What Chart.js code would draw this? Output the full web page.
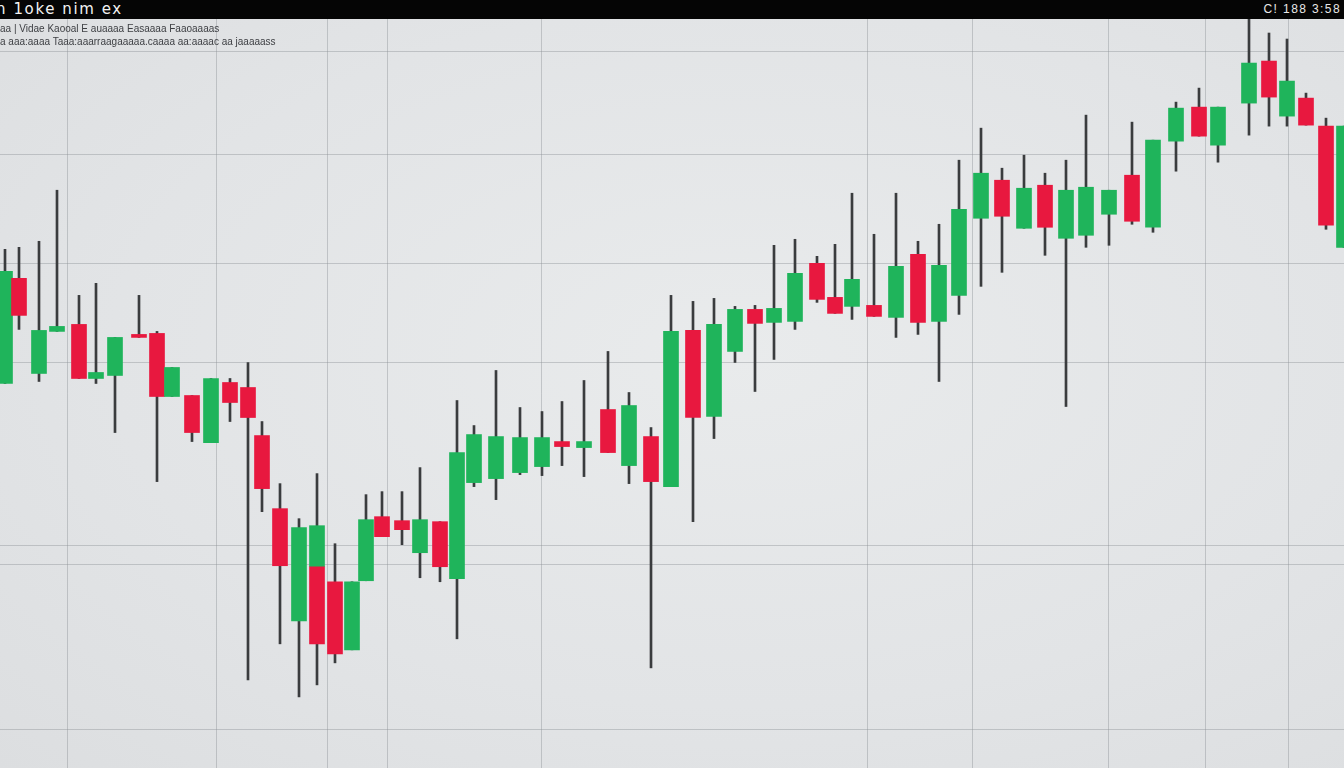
<!DOCTYPE html>
<html>
<head>
<meta charset="utf-8">
<title>Candles</title>
<script src="https://cdn.jsdelivr.net/npm/chart.js@4.4.1/dist/chart.umd.min.js"></script>
<style>
    html, body { margin: 0; padding: 0; width: 1344px; height: 768px; overflow: hidden; background: #e2e4e6; font-family: "Liberation Sans", Arial, sans-serif; }
    #topBar { position: absolute; left: 0; top: 0; width: 1344px; height: 19px; background: #050505; }
    #title { position: absolute; left: -4px; top: 0px; color: #f2f2f2; font-family: "DejaVu Sans", sans-serif; font-size: 15px; line-height: 19px; letter-spacing: 1.6px; }
    #clock { position: absolute; right: 3px; top: 0px; color: #e8e8e8; font-size: 12px; line-height: 19px; letter-spacing: 1.4px; }
    #chartBox { position: absolute; left: 0; top: 19px; width: 1344px; height: 749px;
        background: radial-gradient(ellipse at 55% 45%, #e9ebec 0%, #e2e4e6 60%, #dcdee0 100%); }
    .info { position: absolute; left: 0; color: #3c3e42; font-size: 10px; white-space: nowrap; z-index: 2; }
</style>
</head>
<body>
<div id="topBar">
    <div id="title">n 1oke nim ex</div>
    <div id="clock">C! 188 3:58</div>
</div>
<div id="chartBox"><canvas id="candleChart"></canvas></div>
<div class="info" style="top:23px;">aa | Vidae Kaooal E auaaaa Easaaaa Faaoaaaas</div>
<div class="info" style="top:36px;">a  aaa:aaaa  Taaa:aaarraagaaaaa.caaaa aa:aaaac aa jaaaaass</div>

<script>
// candle times (one unit = one period) and prices
var times = [0.25, 0.95, 1.95, 2.85, 3.95, 4.8, 5.75, 6.95, 7.85, 8.6,
    9.6, 10.55, 11.5, 12.4, 13.1, 14, 14.95, 15.85, 15.85, 16.75,
    17.6, 18.3, 19.1, 20.1, 21, 22, 22.85, 23.7, 24.8, 26,
    27.1, 28.1, 29.2, 30.4, 31.45, 32.55, 33.55, 34.65, 35.7, 36.75,
    37.75, 38.7, 39.75, 40.85, 41.75, 42.6, 43.7, 44.8, 45.9, 46.95,
    47.95, 49.05, 50.1, 51.2, 52.25, 53.3, 54.3, 55.45, 56.6, 57.65,
    58.8, 59.95, 60.9, 62.45, 63.45, 64.35, 65.3, 66.3, 67.2];

var opens = [138.4, 148.9, 139.4, 143.6, 144.3, 138.9, 139.2, 143.3, 143.4, 137.1,
    137.2, 132.5, 138.5, 138.0, 133.2, 125.9, 114.7, 120.1, 120.1, 118.6,
    111.8, 118.7, 125.1, 124.7, 121.5, 124.6, 118.9, 128.5, 128.9, 129.5,
    130.1, 132.6, 132.0, 135.8, 130.2, 133.1, 128.1, 143.7, 135.1, 141.6,
    145.8, 144.5, 144.6, 150.4, 147.0, 146.1, 146.2, 145.0, 151.3, 144.6,
    147.2, 154.9, 158.7, 153.9, 158.2, 152.9, 153.2, 155.3, 159.2, 154.0,
    162.6, 166.0, 162.2, 166.4, 170.6, 165.1, 166.9, 164.1, 152.0];

var closes = [149.6, 145.2, 143.7, 144.1, 138.9, 139.5, 143.0, 143.0, 137.1, 140.0,
    133.5, 138.9, 136.5, 135.0, 127.9, 120.2, 124.0, 124.2, 112.4, 111.4,
    118.6, 124.8, 123.1, 123.8, 124.8, 120.1, 131.5, 133.3, 133.1, 133.0,
    133.0, 132.1, 132.6, 131.5, 136.2, 128.6, 143.6, 135.0, 144.3, 145.8,
    144.4, 145.9, 149.4, 146.8, 145.4, 148.8, 145.1, 150.1, 144.5, 150.2,
    155.8, 159.4, 155.1, 157.9, 154.0, 157.7, 158.0, 157.7, 154.6, 162.7,
    165.9, 163.1, 166.0, 170.4, 167.0, 168.6, 164.2, 154.2, 164.1];

var highs = [151.8, 152.0, 152.6, 157.7, 147.2, 148.4, 143.0, 147.2, 143.6, 140.0,
    137.2, 138.9, 138.9, 140.5, 134.6, 128.4, 124.9, 129.4, 120.1, 122.4,
    118.6, 127.3, 127.6, 127.6, 130.0, 124.6, 136.7, 134.2, 139.7, 136.0,
    135.6, 136.6, 138.7, 141.6, 137.5, 134.0, 147.2, 146.6, 146.9, 146.1,
    146.2, 152.2, 152.8, 151.1, 152.3, 157.4, 153.3, 157.4, 152.6, 154.3,
    160.7, 163.9, 159.9, 161.2, 159.4, 160.7, 165.2, 157.7, 164.5, 162.7,
    166.5, 167.9, 166.0, 174.8, 173.4, 172.8, 167.4, 164.9, 164.1];

var lows = [138.4, 143.8, 138.6, 143.6, 138.9, 138.4, 133.5, 143.0, 128.6, 137.1,
    132.6, 132.5, 134.6, 108.8, 125.6, 112.4, 107.1, 120.1, 108.3, 110.5,
    111.8, 118.7, 123.1, 122.3, 119.0, 118.6, 112.9, 128.1, 126.8, 129.3,
    129.2, 130.2, 129.1, 131.5, 128.4, 110.0, 128.1, 124.6, 132.9, 140.5,
    137.6, 140.8, 143.8, 146.5, 145.4, 144.8, 145.1, 143.0, 143.3, 138.6,
    145.3, 148.1, 149.5, 153.9, 151.2, 136.1, 152.0, 152.2, 154.3, 153.5,
    159.6, 163.1, 160.5, 163.2, 164.1, 164.1, 164.2, 153.8, 152.0];

// where the faint grid lines sit
var gridTimes = [3.35, 10.85, 16.4, 19.35, 27.05, 43.35, 48.6, 55.4, 60.25, 64.4];
var gridPrices = [171.6, 161.3, 150.4, 140.5, 122.2, 120.3, 103.8];

var upColor = '#1fb45b';
var downColor = '#e8183f';
var wickColor = '#3a3c3e';

var bodies = times.map(function (t, i) { return { x: t, y: [opens[i], closes[i]] }; });
var wicks = times.map(function (t, i) { return { x: t, y: [lows[i], highs[i]] }; });
var bodyColors = times.map(function (t, i) { return closes[i] >= opens[i] ? upColor : downColor; });

var ctx = document.getElementById('candleChart').getContext('2d');
var chartInstance = new Chart(ctx, {
    type: 'bar',
    data: {
        datasets: [{
            label: 'Body',
            data: bodies,
            backgroundColor: bodyColors,
            borderWidth: 0,
            barThickness: 15,
            grouped: false,
            borderSkipped: false
        }, {
            label: 'Wick',
            data: wicks,
            backgroundColor: wickColor,
            borderWidth: 0,
            barThickness: 2,
            grouped: false,
            borderSkipped: false
        }]
    },
    options: {
        responsive: true,
        maintainAspectRatio: false,
        animation: false,
        layout: { padding: 0 },
        plugins: {
            legend: { display: false },
            tooltip: { enabled: false }
        },
        scales: {
            x: {
                type: 'linear',
                min: 0,
                max: 67.2,
                offset: false,
                afterBuildTicks: function (axis) {
                    axis.ticks = gridTimes.map(function (v) { return { value: v }; });
                },
                ticks: { display: false },
                border: { display: false },
                // bar charts draw grid between ticks by default, keep lines on the ticks
                grid: { offset: false, color: 'rgba(140,145,150,0.42)', lineWidth: 1, drawTicks: false }
            },
            y: {
                min: 100,
                max: 174.8,
                afterBuildTicks: function (axis) {
                    axis.ticks = gridPrices.map(function (v) { return { value: v }; });
                },
                ticks: { display: false },
                border: { display: false },
                grid: { color: 'rgba(140,145,150,0.42)', lineWidth: 1, drawTicks: false }
            }
        }
    }
});
</script>
</body>
</html>
